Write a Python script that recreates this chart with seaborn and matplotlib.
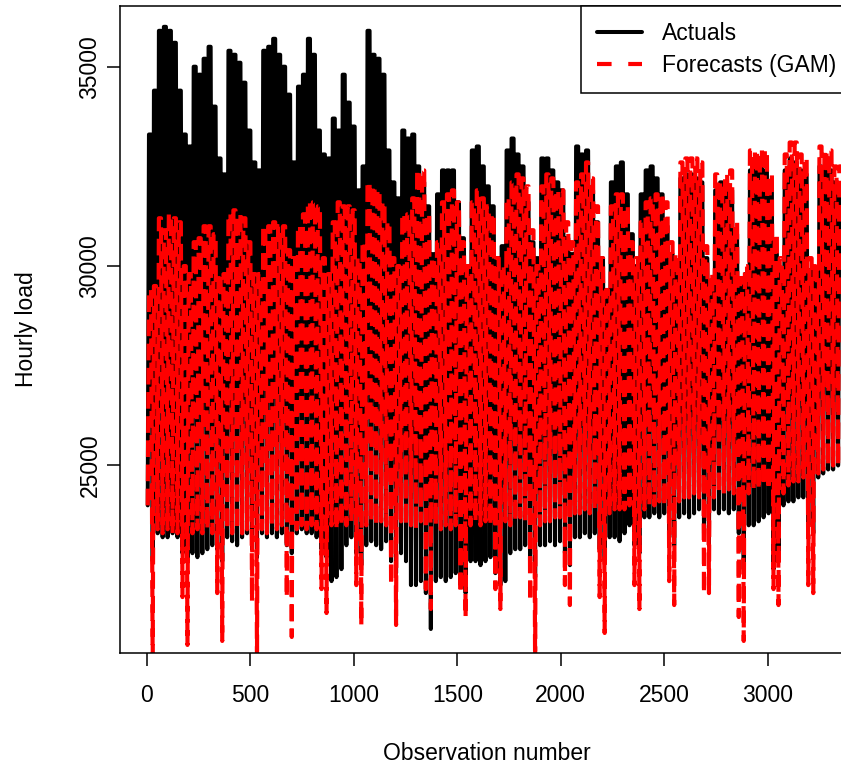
import numpy as np
import matplotlib
matplotlib.use("Agg")
import matplotlib.pyplot as plt
import seaborn as sns

# Daily peak and trough of the hourly load (140 days, 7 per row)
actual_max = [
    33300, 34400, 35900, 36000, 35900, 35600, 34400,
    33300, 33000, 35000, 34800, 35200, 35500, 34000,
    32700, 32300, 35400, 35300, 35100, 34600, 33400,
    32600, 32400, 35400, 35500, 35700, 35300, 35000,
    34300, 32600, 34500, 34800, 35700, 35300, 33400,
    32800, 32700, 33700, 33400, 34800, 34100, 33500,
    31900, 32500, 35900, 35300, 35200, 34800, 32900,
    32100, 31700, 33400, 33200, 33300, 32500, 32100,
    31500, 30300, 31800, 32400, 32400, 32400, 31600,
    30700, 29900, 32900, 33000, 32500, 32000, 31500,
    30200, 30500, 32900, 33200, 32800, 32500, 31600,
    30600, 30200, 32700, 32700, 32400, 32100, 31900,
    30700, 30300, 33000, 32800, 32900, 31900, 31100,
    30200, 29400, 32100, 32500, 32600, 31800, 30800,
    30000, 31800, 32400, 32500, 32200, 31800, 31000,
    30300, 30100, 32200, 32300, 32300, 32200, 32100,
    30200, 29600, 31900, 32100, 32000, 31900, 30800,
    29500, 29800, 32400, 32500, 32500, 32400, 31900,
    30400, 29900, 32400, 32700, 32600, 32400, 32300,
    29900, 29800, 32500, 32500, 32400, 32100, 32000,
]
actual_min = [
    24000, 22600, 23300, 23200, 23200, 23300, 23200,
    22800, 22600, 22800, 22700, 22800, 22900, 23000,
    22900, 22600, 23200, 23100, 23000, 23200, 23300,
    22900, 22700, 23300, 23200, 23300, 23200, 23300,
    23000, 22800, 23300, 23400, 23300, 23300, 23200,
    22900, 22700, 22100, 22200, 22400, 23000, 23200,
    22800, 22500, 23000, 23100, 23000, 22900, 23100,
    22600, 22300, 22800, 22600, 22000, 22000, 22100,
    21800, 20900, 22100, 22200, 22100, 22200, 22300,
    22000, 21800, 22600, 22600, 22500, 22600, 22700,
    22300, 22000, 22100, 22800, 22900, 22900, 23000,
    22600, 22200, 23000, 23000, 23100, 23000, 23100,
    22800, 22500, 23200, 23200, 23300, 23200, 23300,
    22900, 22600, 23200, 23200, 23100, 23300, 23500,
    23000, 22800, 23700, 23700, 23800, 23700, 23800,
    23200, 23000, 23700, 23800, 23700, 23800, 23900,
    23300, 23000, 23900, 23800, 23900, 23800, 23900,
    23300, 22400, 23500, 23500, 23600, 23700, 23800,
    22400, 22600, 24000, 24100, 24100, 24200, 24200,
    23500, 23300, 24700, 24800, 24900, 24900, 25000,
]
forecast_max = [
    29400, 29500, 31200, 30900, 31300, 31200, 31100,
    30000, 29800, 30600, 30700, 31000, 31000, 30800,
    29800, 29800, 31300, 31400, 31300, 31200, 30600,
    29800, 29800, 31000, 31000, 31100, 31000, 31000,
    30400, 30200, 31000, 31300, 31600, 31600, 31500,
    30200, 29800, 31100, 31600, 31500, 31500, 31400,
    30200, 30600, 32100, 32000, 31900, 31600, 31100,
    30200, 30000, 31300, 31300, 31700, 32400, 32400,
    31300, 30200, 30600, 31600, 31800, 31900, 31600,
    30600, 30000, 31600, 31900, 31700, 31500, 31300,
    30200, 30000, 31700, 32100, 32300, 32200, 32000,
    30900, 30000, 32000, 32300, 32200, 31900, 31900,
    31100, 30600, 32100, 32300, 32600, 32200, 31500,
    30200, 29400, 31500, 31800, 31800, 31500, 30600,
    30200, 31100, 31600, 31700, 31800, 31800, 31600,
    30600, 30300, 32600, 32700, 32700, 32700, 32600,
    30500, 29800, 32300, 32100, 32300, 32400, 31100,
    29700, 30000, 32900, 32900, 32900, 32900, 32300,
    30800, 30200, 32800, 33100, 33100, 32800, 32700,
    30200, 30100, 33000, 32900, 32900, 32500, 32500,
]
forecast_min = [
    24000, 19900, 23400, 23300, 23400, 23300, 23300,
    21700, 20500, 23300, 23400, 23300, 23400, 23300,
    21800, 20600, 23400, 23300, 23400, 23300, 23400,
    21600, 20100, 23400, 23300, 23500, 23400, 23500,
    21700, 20700, 23400, 23500, 23400, 23500, 23400,
    21900, 21300, 23500, 23400, 23500, 23500, 23600,
    22000, 21000, 23500, 23600, 23500, 23600, 23500,
    22000, 21000, 23600, 23500, 23500, 23400, 23600,
    21900, 21400, 23500, 23400, 23500, 23400, 23500,
    21800, 21200, 23500, 23600, 23500, 23600, 23500,
    21900, 21400, 23600, 23500, 23600, 23700, 23600,
    21600, 19800, 23500, 23600, 23600, 23700, 23700,
    22000, 21500, 23800, 23800, 23900, 23800, 23900,
    21700, 20800, 23800, 23900, 23900, 23900, 24000,
    22000, 21400, 23900, 24000, 24000, 24100, 24000,
    22100, 21500, 24100, 24200, 24200, 24300, 24200,
    21800, 21800, 24200, 24300, 24300, 24400, 24300,
    21200, 20600, 24300, 24400, 24400, 24500, 24400,
    21900, 21500, 24300, 24500, 24600, 24600, 24700,
    22000, 21800, 24800, 24900, 25000, 25000, 25000,
]

x_ticks = [0, 500, 1000, 1500, 2000, 2500, 3000]
y_ticks = [25000, 30000, 35000]

HOURS_PER_DAY = 24
TROUGH_HOUR = 4
PEAK_START = 10
PEAK_END = 20


def to_hourly(trough, peak):
    """
    Night trough, then the day's peak held through the working hours
    """
    day = np.arange(len(peak))
    base = day * HOURS_PER_DAY
    obs = np.column_stack([base + TROUGH_HOUR, base + PEAK_START, base + PEAK_END]).ravel()
    load = np.column_stack([trough, peak, peak]).ravel()
    return obs, load


sns.set_style("ticks")
plt.rcParams['font.family'] = ['Liberation Sans', 'DejaVu Sans']
for key in ['text.color', 'axes.labelcolor', 'xtick.color', 'ytick.color', 'axes.edgecolor']:
    plt.rcParams[key] = 'black'

fig = plt.figure(figsize=(8.41, 7.69), dpi=100)
# plot region runs past the right edge, as in the cropped original
ax = fig.add_axes([120 / 841, 1 - 653 / 769, 733 / 841, 647 / 769])

obs_a, load_a = to_hourly(actual_min, actual_max)
obs_f, load_f = to_hourly(forecast_min, forecast_max)

sns.lineplot(x=obs_a, y=load_a, ax=ax, color='black', linewidth=2.9,
             estimator=None, sort=False, label='Actuals')
sns.lineplot(x=obs_f, y=load_f, ax=ax, color='red', linewidth=3.0,
             linestyle=(0, (4, 1.8)), estimator=None, sort=False,
             label='Forecasts (GAM)')

ax.set_xlim(-130, 3412)
ax.set_ylim(20298, 36522)
ax.set_xticks(x_ticks)
ax.set_xticklabels([str(t) for t in x_ticks])
ax.set_yticks(y_ticks)
ax.set_yticklabels([str(t) for t in y_ticks], rotation=90, va='center')
ax.tick_params(axis='both', length=9.4, width=1.1, labelsize=16.5)
ax.tick_params(axis='x', pad=13)
ax.tick_params(axis='y', pad=4)
for side in ax.spines.values():
    side.set_linewidth(1.1)
    side.set_visible(True)

ax.set_xlabel('Observation number', fontsize=16.5, labelpad=25)
ax.set_ylabel('Hourly load', fontsize=16.5, labelpad=29)

leg = ax.legend(loc='upper right', bbox_to_anchor=(1, 1), borderaxespad=0,
                fontsize=16.5, frameon=True, fancybox=False, framealpha=1,
                edgecolor='black', handlelength=1.96, handletextpad=0.87,
                borderpad=0.72, labelspacing=0.35)
leg.get_frame().set_linewidth(1.1)
# legend sample uses R's longer dash
leg.get_lines()[1].set_dashes((3.5, 4))

fig.savefig('out.png', dpi=100)
plt.close(fig)
